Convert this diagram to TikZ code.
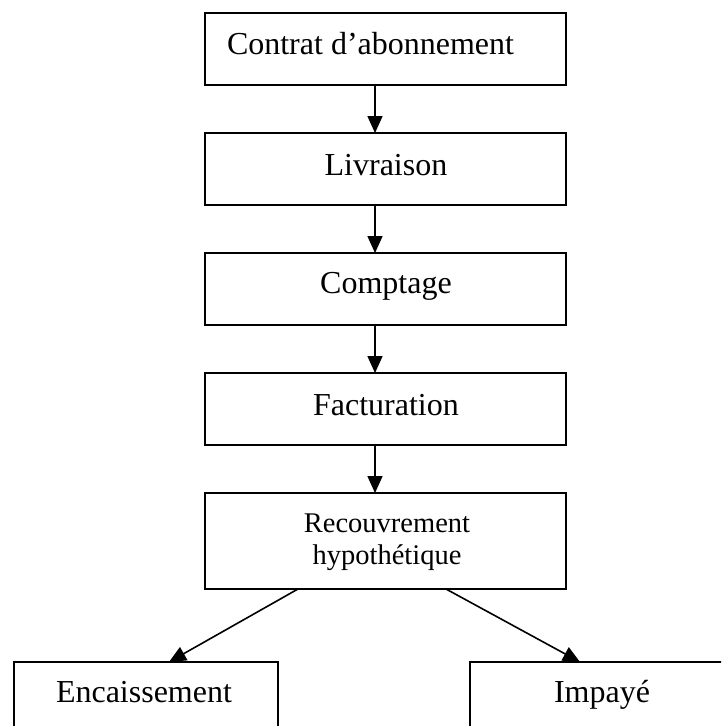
\documentclass[tikz,border=0pt]{standalone}
\usepackage{fontspec}
\setmainfont{Liberation Serif}
\usetikzlibrary{arrows.meta}
\begin{document}
\begin{tikzpicture}[x=1pt,y=-1pt,
  box/.style={draw=black,line width=1.6pt,fill=white,rectangle,inner sep=0pt,outer sep=0pt,
              minimum width=361pt,minimum height=72pt},
  lbl/.style={inner sep=0pt,outer sep=0pt,anchor=base,font=\fontsize{32}{38}\selectfont},
  small/.style={inner sep=0pt,outer sep=0pt,anchor=base,font=\fontsize{28.5}{32}\selectfont},
  flow/.style={line width=1.6pt,-{Triangle[length=17pt,width=15pt]}}]
\useasboundingbox (0,0) rectangle (721,726);
\clip (0,0) rectangle (721,726);
\fill[white] (0,0) rectangle (721,726);

% main chain of steps
\node[box] (contrat) at (385.5,49) {};
\node[box] (livraison) at (385.5,169) {};
\node[box] (comptage) at (385.5,289) {};
\node[box] (facturation) at (385.5,409) {};
\node[box,minimum height=96pt] (recouvrement) at (385.5,541) {};
% the two outcomes
\node[box,minimum width=264pt,minimum height=80pt] (encaissement) at (146,702) {};
\node[box,minimum width=270pt,minimum height=80pt] (impaye) at (605,702) {};

% labels
\node[lbl,anchor=base west] (tcontrat) at (227,54) {Contrat d’abonnement};
\node[lbl] (tlivraison) at (386,175) {Livraison};
\node[lbl] (tcomptage) at (386,293) {Comptage};
\node[lbl] (tfacturation) at (386,415) {Facturation};
\node[small] (trecouv1) at (387,532) {Recouvrement};
\node[small] (trecouv2) at (387,564) {hypothétique};
\node[lbl] (tenc) at (144,702) {Encaissement};
\node[lbl] (timp) at (602,702) {Impayé};

% connectors
\draw[flow] ([xshift=-10.5pt]contrat.south) -- ([xshift=-10.5pt]livraison.north);
\draw[flow] ([xshift=-10.5pt]livraison.south) -- ([xshift=-10.5pt]comptage.north);
\draw[flow] ([xshift=-10.5pt]comptage.south) -- ([xshift=-10.5pt]facturation.north);
\draw[flow] ([xshift=-10.5pt]facturation.south) -- ([xshift=-10.5pt]recouvrement.north);
\draw[flow] ([xshift=-87.5pt]recouvrement.south) -- ([xshift=23pt]encaissement.north);
\draw[flow] ([xshift=60.5pt]recouvrement.south) -- ([xshift=-25pt]impaye.north);
\end{tikzpicture}
\end{document}
